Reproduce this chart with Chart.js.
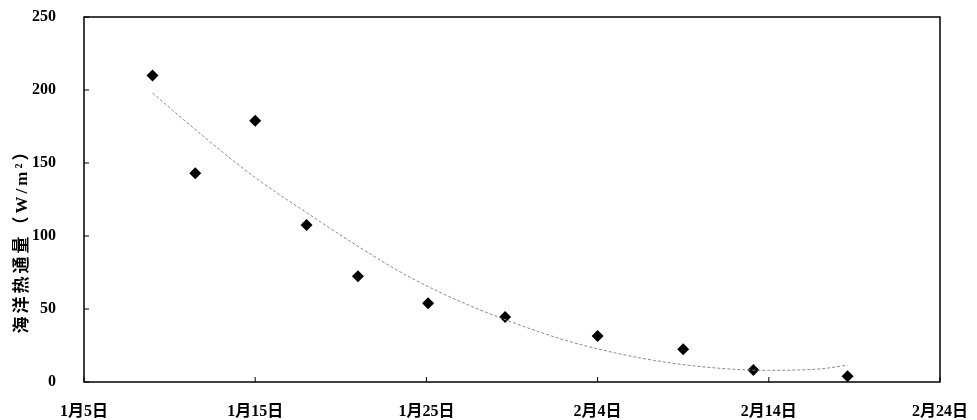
<!DOCTYPE html>
<html>
<head>
<meta charset="utf-8">
<script src="https://cdn.jsdelivr.net/npm/chart.js@4.4.1/dist/chart.umd.min.js"></script>
<style>
  html, body { margin: 0; padding: 0; background: #fff; }
  #wrap { width: 977px; height: 420px; position: relative; }
</style>
</head>
<body>
<div id="wrap"><canvas id="chart"></canvas></div>
<script>
// days counted from 1月5日
const xTickLabels = ['1月5日', '1月15日', '1月25日', '2月4日', '2月14日', '2月24日'];
const yTicks = [0, 50, 100, 150, 200, 250];

const obsDays = [4, 6.5, 10, 13, 16, 20.1, 24.6, 30, 35, 39.1, 44.6];
const obsFlux = [210, 143, 179, 107.5, 72.5, 54, 44.5, 31.5, 22.5, 8.2, 4];

const trendDays = [4, 7, 10, 13, 16, 19, 22, 25, 28, 31, 34, 37, 40, 43, 44.6];
const trendFlux = [198, 168, 140, 116, 93, 72, 55, 41, 29, 20, 13.5, 9.5, 8, 9, 11.5];

const yTitle = '海洋热通量（W/m²）';
const fontFamily = "'Liberation Serif', 'Noto Sans CJK SC', serif";

// ticks drawn inward + full frame + rotated y title
const frameAndTicks = {
    id: 'frameAndTicks',
    afterDraw(chart) {
        const { ctx, chartArea: a, scales } = chart;
        ctx.save();
        ctx.strokeStyle = '#000';
        ctx.lineWidth = 1.5;
        ctx.strokeRect(a.left, a.top, a.right - a.left, a.bottom - a.top);
        ctx.lineWidth = 1;
        ctx.beginPath();
        scales.x.ticks.forEach(t => {
            const px = scales.x.getPixelForValue(t.value);
            ctx.moveTo(px, a.bottom);
            ctx.lineTo(px, a.bottom - 5);
        });
        scales.y.ticks.forEach(t => {
            const py = scales.y.getPixelForValue(t.value);
            ctx.moveTo(a.left, py);
            ctx.lineTo(a.left + 5, py);
        });
        ctx.stroke();

        ctx.translate(23, 237);
        ctx.rotate(-Math.PI / 2);
        ctx.fillStyle = '#000';
        ctx.font = "bold 17px " + fontFamily;
        ctx.letterSpacing = '3px';
        ctx.textAlign = 'center';
        ctx.textBaseline = 'middle';
        ctx.fillText(yTitle, 0, 0);
        ctx.restore();
    }
};

new Chart(document.getElementById('chart'), {
    type: 'scatter',
    data: {
        datasets: [
            {
                label: 'trend',
                type: 'line',
                data: trendDays.map((d, i) => ({ x: d, y: trendFlux[i] })),
                borderColor: '#8a8a8a',
                borderWidth: 1,
                borderDash: [3, 2],
                pointRadius: 0,
                fill: false,
                cubicInterpolationMode: 'monotone'
            },
            {
                label: 'flux',
                data: obsDays.map((d, i) => ({ x: d, y: obsFlux[i] })),
                pointStyle: 'rectRot',
                pointRadius: 6,
                backgroundColor: '#000',
                borderColor: '#000',
                borderWidth: 0
            }
        ]
    },
    options: {
        responsive: true,
        maintainAspectRatio: false,
        animation: false,
        layout: { padding: { top: 17, right: 37, left: 0, bottom: 0 } },
        plugins: {
            legend: { display: false },
            tooltip: { enabled: false }
        },
        scales: {
            x: {
                type: 'linear',
                min: 0,
                max: 50,
                border: { display: false },
                grid: { display: false },
                afterBuildTicks: s => { s.ticks = xTickLabels.map((_, i) => ({ value: i * 10 })); },
                afterFit: s => { s.height = 38; s.paddingLeft = 0; s.paddingRight = 0; },
                ticks: {
                    padding: 12,
                    maxRotation: 0,
                    color: '#000',
                    font: { family: fontFamily, size: 16, weight: 'bold' },
                    callback: v => xTickLabels[Math.round(v / 10)]
                }
            },
            y: {
                min: 0,
                max: 250,
                border: { display: false },
                grid: { display: false },
                afterBuildTicks: s => { s.ticks = yTicks.map(v => ({ value: v })); },
                afterFit: s => { s.width = 84; s.paddingTop = 0; s.paddingBottom = 0; },
                ticks: {
                    padding: 20,
                    color: '#000',
                    font: { family: fontFamily, size: 16, weight: 'bold' }
                }
            }
        }
    },
    plugins: [frameAndTicks]
});
</script>
</body>
</html>
